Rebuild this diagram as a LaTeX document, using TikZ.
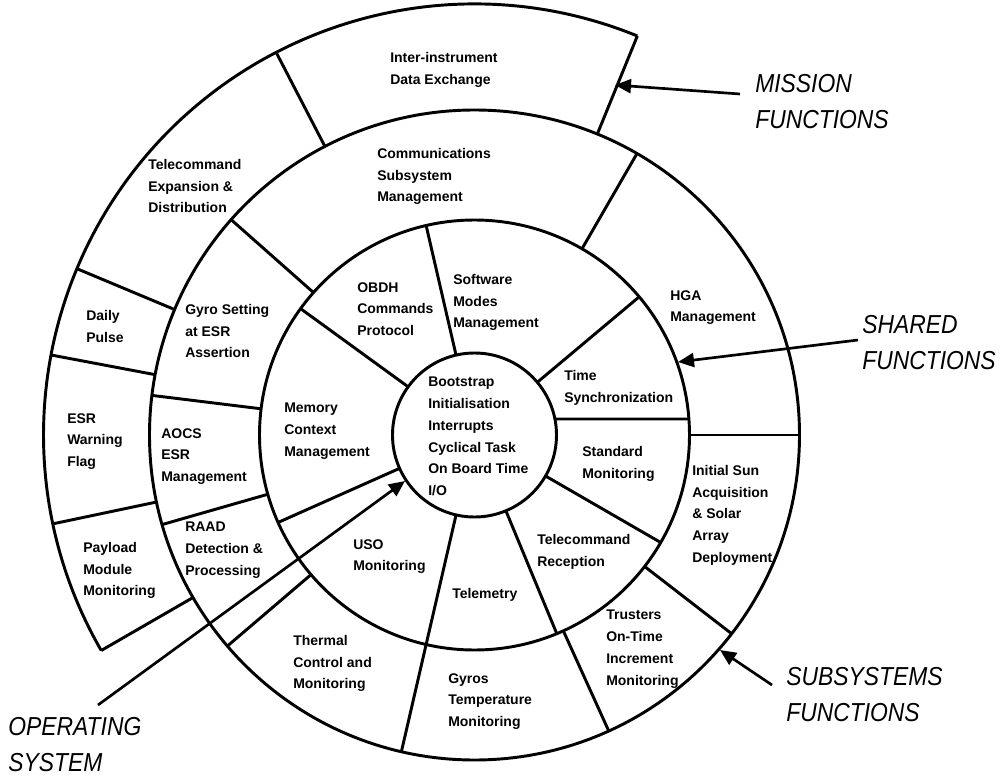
\documentclass[tikz,border=0pt]{standalone}
\usepackage{fontspec}
\setmainfont{Liberation Sans}
\newfontfamily\lblfont[FakeStretch=0.88]{Liberation Sans}
\usetikzlibrary{arrows.meta,calc}
\begin{document}
\begin{tikzpicture}[x=0.75pt,y=0.75pt,
  ring/.style={line width=2.2pt},
  cell/.style={font=\fontsize{10.5}{16.3}\selectfont\bfseries, align=left, anchor=north west, inner sep=0pt},
  lbl/.style={font=\lblfont\itshape\fontsize{19.5}{27}\selectfont, align=left, anchor=north west, inner sep=0pt},
  arr/.style={line width=2pt, -{Triangle[length=12pt,width=10.5pt]}}]
\useasboundingbox (0,0) rectangle (1001,-778);
\coordinate (c) at (474.5,-435);
\def\ra{82}\def\rb{215}\def\rc{325}\def\rd{431}
% circles
\draw[ring] (c) circle[radius=\ra];
\draw[ring] (c) circle[radius=\rb];
\draw[ring] (c) circle[radius=\rc];
\draw[ring] ($(c)+(67.8:\rd)$) arc[start angle=67.8, end angle=210, radius=\rd];
% inner ring dividers
\foreach \a in {144,103,40,-30,-67.5,204}
  \draw[ring] ($(c)+(\a:\ra)$) -- ($(c)+(\a:\rb)$);
\draw[ring] ($(c)+(-103:\ra)$) -- ($(c)+(-103:\rc)$);
\draw[ring] ($(c)+(11.25:\ra)$) -- ($(c)+(4.27:\rb)$);
% middle ring dividers
\foreach \a in {138.5,60,0,-37.7,-65.6,220.5,196,173}
  \draw[ring] ($(c)+(\a:\rb)$) -- ($(c)+(\a:\rc)$);
% outer ring dividers
\foreach \a in {117.4,67.8,157.3,169.3,191.9,210}
  \draw[ring] ($(c)+(\a:\rc)$) -- ($(c)+(\a:\rd)$);
% centre
\node[cell] (os) at (428,-377) {Bootstrap\\Initialisation\\Interrupts\\Cyclical Task\\On Board Time\\I/O};
% inner ring
\node[cell] (mem) at (284,-403) {Memory\\Context\\Management};
\node[cell] (obdh) at (357,-282) {OBDH\\Commands\\Protocol};
\node[cell] (swm) at (453,-274) {Software\\Modes\\Management};
\node[cell] (tsync) at (564,-370) {Time\\Synchronization};
\node[cell] (stdm) at (582,-446) {Standard\\Monitoring};
\node[cell] (tcr) at (537,-534) {Telecommand\\Reception};
\node[cell] (tm) at (452,-588) {Telemetry};
\node[cell] (uso) at (353,-539) {USO\\Monitoring};
% middle ring
\node[cell] (css) at (377,-148) {Communications\\Subsystem\\Management};
\node[cell] (hga) at (670,-290) {HGA\\Management};
\node[cell] (isa) at (692,-465) {Initial Sun\\Acquisition\\\& Solar\\Array\\Deployment};
\node[cell] (thr) at (606,-610) {Trusters\\On-Time\\Increment\\Monitoring};
\node[cell] (gyt) at (448,-673) {Gyros\\Temperature\\Monitoring};
\node[cell] (tcm) at (293,-635) {Thermal\\Control and\\Monitoring};
\node[cell] (raad) at (185,-522) {RAAD\\Detection \&\\Processing};
\node[cell] (aocs) at (161,-428) {AOCS\\ESR\\Management};
\node[cell] (gyro) at (185,-304) {Gyro Setting\\at ESR\\Assertion};
% outer ring
\node[cell] (iide) at (390,-52) {Inter-instrument\\Data Exchange};
\node[cell] (tced) at (148,-159) {Telecommand\\Expansion \&\\Distribution};
\node[cell] (dp) at (86,-310) {Daily\\Pulse};
\node[cell] (esr) at (67,-413) {ESR\\Warning\\Flag};
\node[cell] (pmm) at (83,-542) {Payload\\Module\\Monitoring};
% labels
\node[lbl] (mission) at (755,-74) {MISSION\\FUNCTIONS};
\node[lbl] (shared) at (862,-315) {SHARED\\FUNCTIONS};
\node[lbl] (subsys) at (786,-667) {SUBSYSTEMS\\FUNCTIONS};
\node[lbl] (opsys) at (8,-717) {OPERATING\\SYSTEM};
\coordinate (ms) at (740,-94);  \coordinate (mt) at (615,-85);
\coordinate (ss) at (858,-340); \coordinate (st) at (678,-362);
\coordinate (bs) at (772,-685); \coordinate (bt) at (720,-650);
\coordinate (os0) at (98,-705); \coordinate (ot) at (405,-481);
\draw[arr] (ms) -- (mt);
\draw[arr] (ss) -- (st);
\draw[arr] (bs) -- (bt);
\draw[arr] (os0) -- (ot);
\end{tikzpicture}
\end{document}
